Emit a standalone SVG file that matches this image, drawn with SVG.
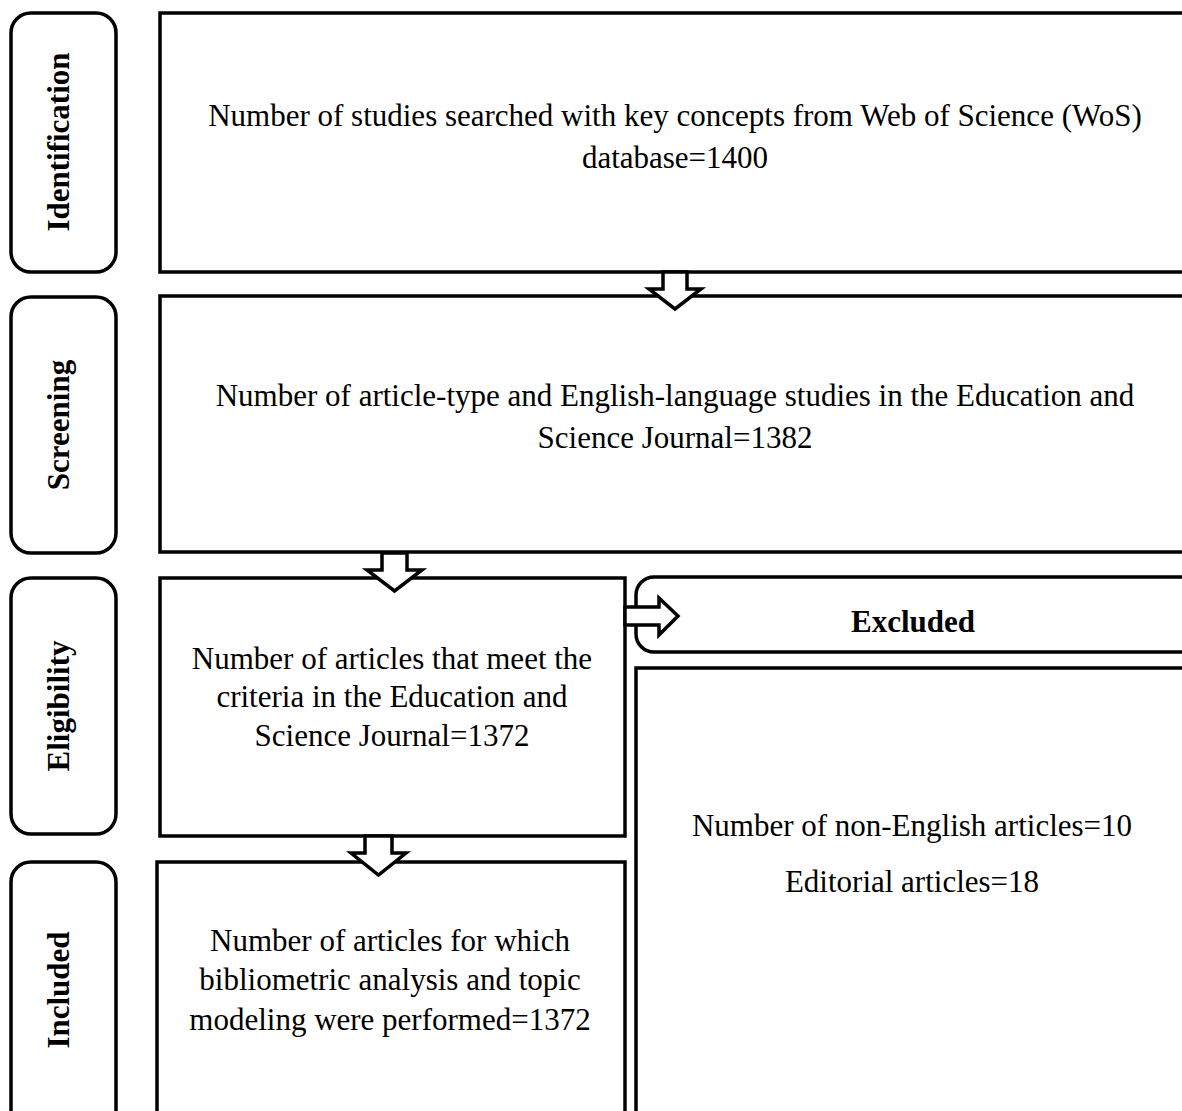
<svg xmlns="http://www.w3.org/2000/svg" width="1182" height="1111" viewBox="0 0 1182 1111">
<style>
.box{fill:#fff;stroke:#000;stroke-width:3.5}
.lbl{fill:#fff;stroke:#000;stroke-width:3.5}
.arr{fill:#fff;stroke:#000;stroke-width:3.5;stroke-linejoin:miter}
.t{font-family:"Liberation Serif","Times New Roman",serif;font-size:31px;fill:#000;text-anchor:middle}
.tb{font-family:"Liberation Serif","Times New Roman",serif;font-size:31px;font-weight:bold;fill:#000;text-anchor:middle}
</style>
<rect width="1182" height="1111" fill="#fff"/>
<g id="label-identification"><rect class="lbl" x="11" y="13" width="105" height="259" rx="20"/><text class="tb" transform="translate(69,142) rotate(-90)">Identification</text></g>
<g id="label-screening"><rect class="lbl" x="11" y="297" width="105" height="256" rx="20"/><text class="tb" transform="translate(69,425) rotate(-90)">Screening</text></g>
<g id="label-eligibility"><rect class="lbl" x="11" y="578" width="105" height="256" rx="20"/><text class="tb" transform="translate(69,706) rotate(-90)">Eligibility</text></g>
<g id="label-included"><rect class="lbl" x="11" y="862" width="105" height="280" rx="20"/><text class="tb" transform="translate(69,990) rotate(-90)">Included</text></g>
<g id="box-identification"><rect class="box" x="160" y="13" width="1040" height="259"/><text class="t" x="675" y="126">Number of studies searched with key concepts from Web of Science (WoS)</text><text class="t" x="675" y="168">database=1400</text></g>
<g id="box-screening"><rect class="box" x="160" y="296" width="1040" height="256"/><text class="t" x="675" y="406">Number of article-type and English-language studies in the Education and</text><text class="t" x="675" y="448">Science Journal=1382</text></g>
<g id="box-eligibility"><rect class="box" x="160" y="578" width="465" height="258"/><text class="t" x="392" y="669">Number of articles that meet the</text><text class="t" x="392" y="707">criteria in the Education and</text><text class="t" x="392" y="746">Science Journal=1372</text></g>
<g id="box-included"><rect class="box" x="157" y="862" width="468" height="280"/><text class="t" x="390" y="951">Number of articles for which</text><text class="t" x="390" y="990">bibliometric analysis and topic</text><text class="t" x="390" y="1030">modeling were performed=1372</text></g>
<g id="box-excluded"><rect class="box" x="636" y="577" width="580" height="75" rx="18"/><text class="tb" x="913" y="632">Excluded</text></g>
<g id="box-excluded-details"><rect class="box" x="636" y="668" width="580" height="480"/><text class="t" x="912" y="836">Number of non-English articles=10</text><text class="t" x="912" y="892">Editorial articles=18</text></g>
<g id="connectors">
<polygon class="arr" points="663,272 687,272 687,289 701,289 675,309 649,289 663,289"/>
<polygon class="arr" points="382,553 407,553 407,570 422,570 394.5,591 367,570 382,570"/>
<polygon class="arr" points="365,836 392,836 392,853 406,853 378.5,875 351,853 365,853"/>
<polygon class="arr" points="625,607 659,607 659,598 678,616 659,635 659,625 625,625"/>
</g>
</svg>
